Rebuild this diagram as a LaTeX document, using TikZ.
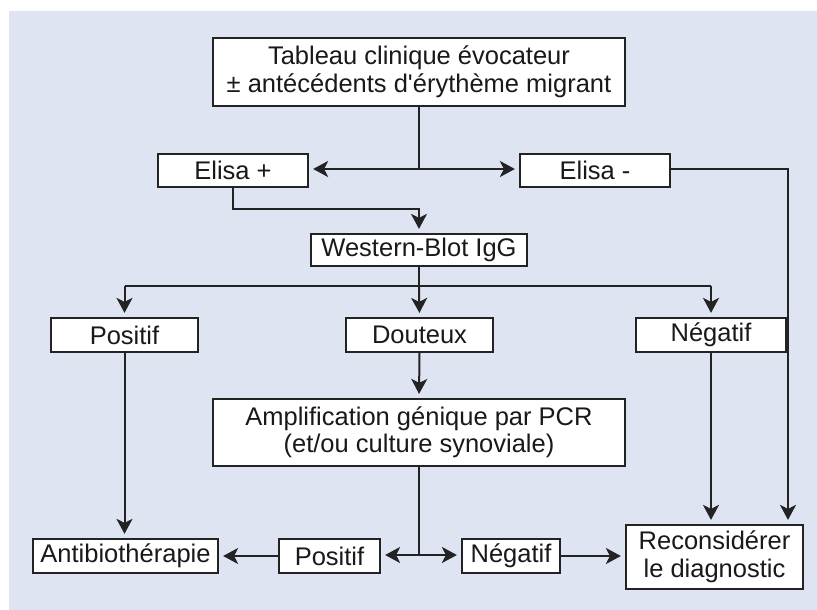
\documentclass[tikz,border=0pt]{standalone}
\usepackage{fontspec}
\newfontfamily\diagfont{Liberation Sans}
\usetikzlibrary{arrows.meta}
\definecolor{panel}{RGB}{223,228,242}
\definecolor{ink}{RGB}{35,35,35}
\begin{document}
\begin{tikzpicture}[
  x={(1pt,0)}, y={(0,-1pt)},
  font=\diagfont\fontsize{25.5}{27.5}\selectfont,
  box/.style={draw=ink, fill=white, line width=2.2pt, text=black!90,
    inner sep=0pt, align=center, minimum height=#1},
  box/.default=34pt,
  link/.style={draw=ink, line width=2pt},
  tip/.tip={Stealth[length=15pt,width=16pt,inset=4pt]},
  arr/.style={link, -tip, shorten >=4pt},
]
\useasboundingbox (0,0) rectangle (817,610);
\fill[panel] (9,11) rectangle (817,610);

% boxes
\node[box=68pt, minimum width=412pt] (top) at (419,72)
  {Tableau clinique évocateur\\± antécédents d'érythème migrant};
\node[box=33pt, minimum width=150pt] (elp) at (233,170.5) {Elisa +};
\node[box=33pt, minimum width=150pt] (elm) at (595,170.5) {Elisa -};
\node[box=32pt, minimum width=216pt] (wb) at (419,250) {Western-Blot IgG};
\node[box, minimum width=147pt] (pos) at (124.5,335) {Positif};
\node[box, minimum width=147pt] (dout) at (419.5,335) {Douteux};
\node[box, minimum width=150pt] (neg) at (711,335) {Négatif};
\node[box=67pt, minimum width=412pt] (amp) at (419,432.5)
  {Amplification génique par PCR\\(et/ou culture synoviale)};
\node[box, minimum width=185pt] (anti) at (125.5,556) {Antibiothérapie};
\node[box, minimum width=101pt] (pos2) at (329.5,556) {Positif};
\node[box, minimum width=98pt] (neg2) at (511,556) {Négatif};
\node[box=64pt, minimum width=177pt] (rec) at (714.5,557)
  {Reconsidérer\\le diagnostic};

% junction points
\coordinate (j1) at (419,169);
\coordinate (j2) at (419,209);
\coordinate (j3) at (419,286);
\coordinate (j4) at (419,555);
\coordinate (r1) at (788,169);

% Elisa split
\draw[link] (top.south) -- (j1);
\draw[arr] (j1) -- (elp.east |- j1);
\draw[arr] (j1) -- (elm.west |- j1);

% Elisa + to Western-Blot
\draw[arr] (elp.south) |- (j2) -- (wb.north);

% Elisa - to Reconsidérer
\draw[arr] (elm.east |- r1) -- (r1) -- (r1 |- rec.north);

% Western-Blot results
\draw[link] (wb.south) -- (j3);
\draw[link] (pos.north |- j3) -- (neg.north |- j3);
\draw[arr] (pos.north |- j3) -- (pos.north);
\draw[arr] (j3) -- (dout.north);
\draw[arr] (neg.north |- j3) -- (neg.north);

% follow-up
\draw[arr] (dout.south) -- (amp.north);
\draw[arr] (pos.south) -- (pos.south |- anti.north);
\draw[arr] (neg.south) -- (neg.south |- rec.north);

% PCR results
\draw[link] (amp.south) -- (j4);
\draw[arr] (j4) -- (pos2.east |- j4);
\draw[arr] (j4) -- (neg2.west |- j4);
\draw[arr] (pos2.west) -- (anti.east);
\draw[arr] (neg2.east) -- (neg2.east -| rec.west);
\end{tikzpicture}
\end{document}
